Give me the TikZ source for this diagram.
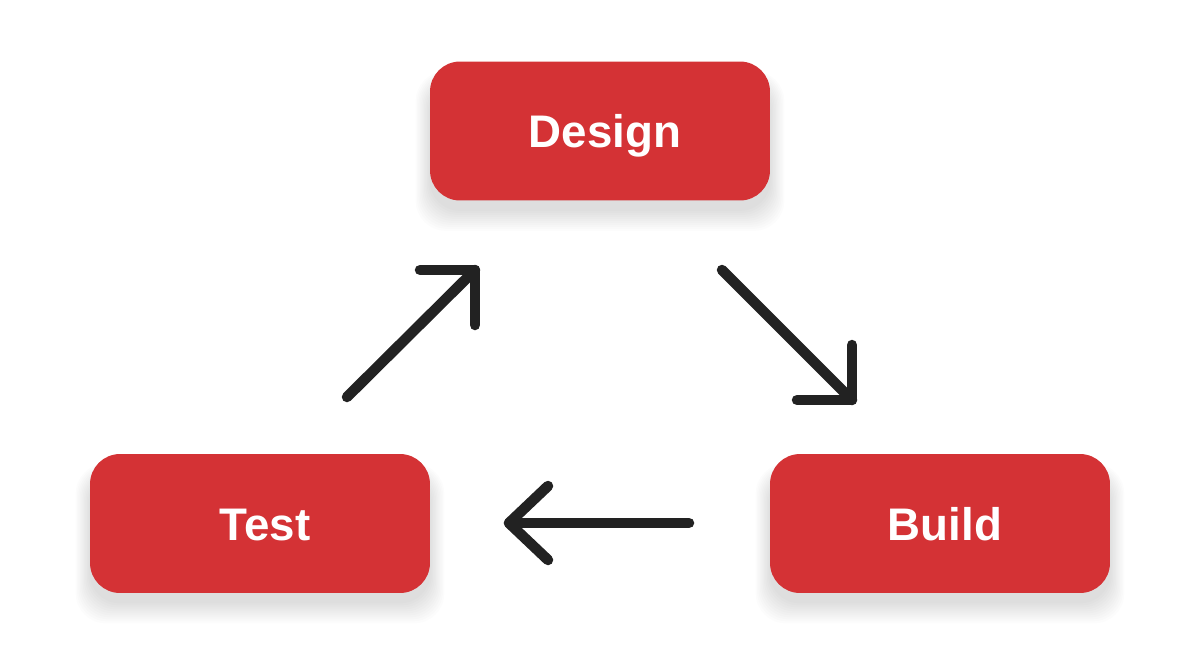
\documentclass[tikz,border=0pt]{standalone}
\usepackage{fontspec}
\setmainfont{Liberation Sans}
\usetikzlibrary{backgrounds,calc}

\definecolor{stagered}{HTML}{D43235}
\definecolor{arrowdark}{HTML}{222222}

\tikzset{
    stage/.style={fill=stagered, rounded corners=0.6cm, inner sep=0pt,
        minimum width=6.8cm, minimum height=2.78cm,
        text=white, font=\fontsize{26}{26}\selectfont\bfseries,
        text height=0.66cm, text depth=0pt,
        execute at begin node=\hspace{0.2cm}},
    flow/.style={line width=0.21cm, arrowdark, line cap=round, line join=round},
}

\begin{document}
\begin{tikzpicture}[x=0.02cm, y=-0.02cm]
    \useasboundingbox (0,0) rectangle (1200,670);

    % De drie fasen
    \node[stage] (design) at (600,131) {Design};
    \node[stage] (test)   at (260,523.5) {Test};
    \node[stage] (build)  at (940,523.5) {Build};

    % Zachte schaduw onder de blokken
    \begin{scope}[on background layer]
        \foreach \n in {design,test,build}
            \foreach \s in {0,2,...,20}
                \fill[black, opacity=0.011, rounded corners=0.6cm]
                    ($(\n.south west)+(-0.7*\s,10+\s)$) rectangle ($(\n.north east)+(0.7*\s,20-0.5*\s)$);
    \end{scope}

    % Pijl Test -> Design
    \coordinate (tdStart) at (347,397);
    \coordinate (tdTip)   at (475,270);
    \draw[flow] (tdStart) -- (tdTip);
    \draw[flow] ($(tdTip)+(-55,0)$) -- (tdTip) -- ($(tdTip)+(0,55)$);

    % Pijl Design -> Build
    \coordinate (dbStart) at (722,270);
    \coordinate (dbTip)   at (852,400);
    \draw[flow] (dbStart) -- (dbTip);
    \draw[flow] ($(dbTip)+(-55,0)$) -- (dbTip) -- ($(dbTip)+(0,-55)$);

    % Pijl Build -> Test
    \coordinate (btStart) at (689,523);
    \coordinate (btTip)   at (509,523);
    \draw[flow] (btStart) -- (btTip);
    \draw[flow] ($(btTip)+(39,-37)$) -- (btTip) -- ($(btTip)+(39,37)$);
\end{tikzpicture}
\end{document}
